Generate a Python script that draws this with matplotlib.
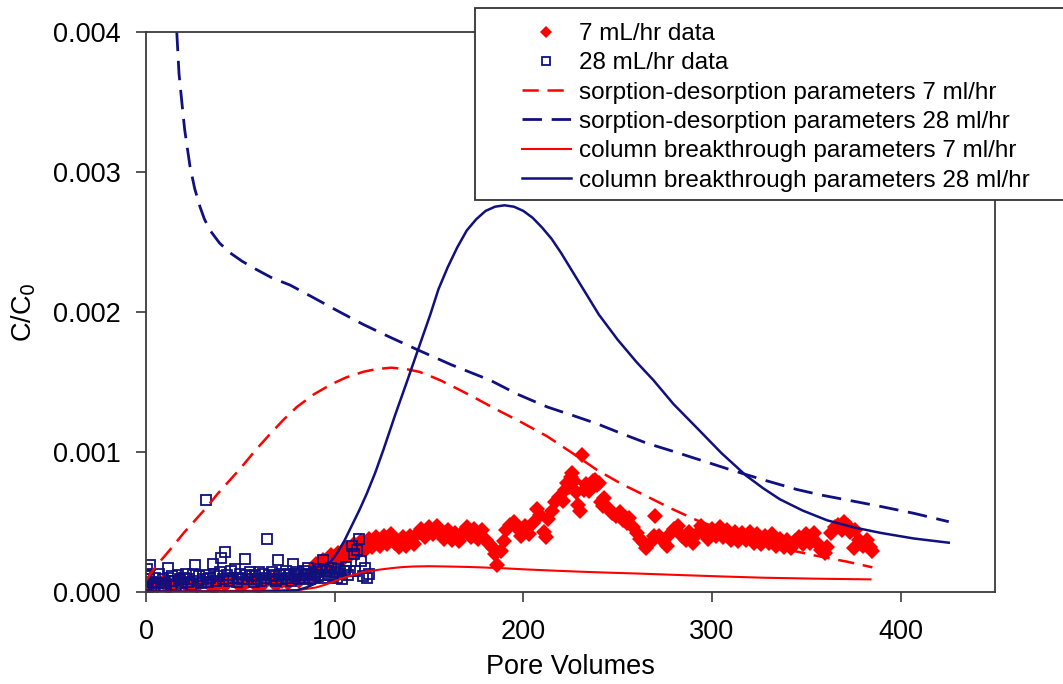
import numpy as np
import matplotlib.pyplot as plt
from matplotlib.patches import Rectangle

plt.rcParams['font.family'] = ['Liberation Sans', 'DejaVu Sans']

RED = '#ff0000'
NAVY = '#10107e'

# measured breakthrough data, 7 mL/hr column (C/C0 in units of 1e-4)
red_x = [0, 3, 6, 9, 12, 15, 18, 21, 24, 27, 30, 33, 36, 39, 42, 45, 48, 51, 54, 57,
         60, 63, 66, 69, 72, 75, 78, 81, 84, 86,
         88, 90, 92, 94, 96, 98, 100, 102, 104, 106, 108, 110, 112, 114, 116, 118, 120,
         122, 124, 126, 128, 130, 132, 134, 136, 138, 140, 142, 144, 146, 148, 150, 152,
         154, 156, 158, 160, 162, 164, 166, 168, 170, 172, 174, 176, 178, 180, 182, 184,
         185, 186, 188, 190, 191, 193, 195, 197, 199, 201, 203, 205, 207, 209, 211, 212,
         213, 215, 217, 219, 221, 222, 223, 224, 225, 226, 227, 228, 229, 230, 231, 232,
         233, 235, 237, 238, 239, 240, 241, 242, 243, 245, 247, 249, 251, 253, 255, 256,
         258, 260, 262, 264, 265, 267, 269, 270, 272, 274, 276, 278, 280, 282, 284, 286,
         288, 290, 292, 294, 296, 298, 300, 302, 304, 306, 308, 310, 312, 314, 316, 318,
         320, 322, 324, 326, 328, 330, 332, 334, 336, 338, 340, 342, 344, 346, 348, 350,
         352, 354, 356, 358, 360, 361, 363, 365, 367, 369, 370, 372, 373, 375, 376, 378,
         380, 382, 384, 385]
red_y = [0.5, 0.8, 0.4, 0.7, 0.3, 0.6, 0.9, 0.5, 0.7, 0.4, 0.8, 0.6, 0.3, 0.7, 0.5, 0.9,
         0.6, 0.4, 0.8, 0.6, 0.3, 0.7, 0.9, 0.5, 0.8, 0.6, 1.0, 0.8, 1.2, 1.0,
         1.4, 2.0, 1.6, 2.3, 1.8, 2.6, 2.1, 2.8, 2.3, 3.1, 2.6, 3.4, 2.8, 3.6, 3.0, 3.8, 3.2,
         3.9, 3.3, 4.0, 3.4, 4.1, 3.5, 3.2, 3.9, 3.3, 4.0, 3.4, 4.2, 4.5, 3.9, 4.6, 4.1,
         4.7, 4.2, 3.8, 4.4, 3.7, 4.2, 3.6, 4.3, 4.6, 3.9, 4.5, 3.8, 4.4, 3.7, 3.4, 3.1,
         2.7, 1.9, 2.9, 3.6, 4.4, 4.8, 5.0, 4.5, 4.0, 4.7, 4.1, 4.9, 5.9, 5.5, 4.3, 3.9,
         5.2, 5.8, 6.4, 6.8, 6.5, 7.3, 7.8, 7.5, 8.2, 8.5, 7.9, 7.1, 6.2, 5.8, 9.8, 7.3,
         7.7, 7.2, 7.9, 8.0, 7.6, 7.8, 6.4, 6.1, 6.7, 6.0, 5.6, 5.4, 5.7, 5.1, 4.9, 5.3,
         4.6, 4.2, 3.8, 3.5, 3.1, 3.5, 4.0, 5.4, 4.0, 3.6, 3.3, 4.1, 4.5, 4.7, 4.0, 3.7,
         4.3, 3.5, 4.1, 4.7, 4.2, 3.8, 4.5, 4.0, 4.6, 3.9, 4.4, 3.7, 4.3, 3.6, 4.2, 3.7,
         4.3, 3.5, 4.1, 3.4, 4.0, 3.5, 4.1, 3.3, 3.8, 3.2, 3.7, 3.1, 3.6, 3.9, 3.4, 4.1,
         3.5, 4.2, 3.4, 3.0, 2.8, 3.2, 4.2, 4.6, 4.8, 4.4, 5.0, 4.7, 4.3, 3.1, 4.4, 3.7,
         3.3, 3.7, 3.2, 2.9]

# measured breakthrough data, 28 mL/hr column (C/C0 in units of 1e-4)
blue_x = [0, 0, 0, 0, 0.5, 1, 1.5, 2, 3, 4, 5, 6, 7, 8, 9, 10, 11.7, 12, 13, 14, 15, 16,
          17, 18, 19, 20, 21, 22, 23, 24, 25, 26, 27, 28, 29, 30, 31.8, 32, 33, 34, 35.6,
          36, 37, 38, 39, 40, 41, 41.9, 43, 44, 45, 46, 47, 48, 49, 50, 51, 52.5, 53, 54,
          55, 56, 57, 58, 59, 60, 61, 62, 63, 64, 65, 66, 67, 68, 69, 70, 71, 72, 73, 74,
          75, 76, 77, 78, 79, 80, 81, 82, 83, 84, 85, 86, 87, 88, 89, 90, 91, 92, 93, 94,
          95, 96, 97, 98, 99, 100, 101, 102, 103, 104, 105, 106, 107, 108, 109, 110, 111,
          112, 113, 114, 115, 116, 117, 118]
blue_y = [0.1, 0.5, 0.9, 1.3, 1.6, 0.3, 1.1, 1.9, 0.7, 0.4, 1.0, 0.6, 1.3, 0.4, 0.9, 0.6,
          1.7, 0.8, 0.5, 1.1, 0.8, 0.5, 1.2, 0.9, 0.6, 1.0, 1.3, 0.7, 0.9, 0.5, 1.3, 1.9,
          0.8, 1.1, 0.6, 0.9, 6.55, 1.2, 0.7, 1.0, 2.0, 1.3, 0.8, 1.1, 1.4, 2.4, 0.9, 2.86,
          1.2, 0.8, 1.5, 1.0, 1.6, 0.7, 1.0, 1.3, 0.9, 2.34, 1.2, 0.9, 1.4, 1.1, 0.7, 1.2,
          0.9, 1.4, 0.8, 1.3, 1.0, 3.8, 1.2, 0.9, 1.4, 1.1, 0.8, 2.26, 1.3, 0.9, 1.2, 1.5,
          1.0, 1.3, 0.8, 2.0, 1.1, 1.4, 0.9, 1.3, 1.0, 1.5, 1.2, 1.7, 0.9, 1.3, 1.0, 1.4,
          1.1, 1.6, 1.2, 2.26, 1.0, 1.5, 1.2, 1.7, 1.1, 1.4, 1.0, 1.6, 1.3, 0.9, 1.5, 1.8,
          1.2, 1.5, 3.3, 2.7, 1.5, 3.0, 3.8, 2.2, 1.1, 1.7, 1.0, 1.3]

# model curve: sorption-desorption parameters, 7 ml/hr
sd7_x = [0, 3, 7.4, 14, 20, 26, 32, 38, 44, 50, 58, 66, 73, 80, 89, 98, 106, 115, 122,
         130, 138, 145, 150.7, 156, 165, 175, 186, 199, 212.6, 226, 239, 252, 265.6, 279,
         292, 306, 320, 337, 354, 371.7, 385]
sd7_y = [0.8, 1.4, 2.15, 3.2, 4.2, 5.1, 6.0, 7.0, 7.9, 8.8, 10.1, 11.3, 12.3, 13.2, 14.1,
         14.8, 15.3, 15.7, 15.9, 16.0, 15.9, 15.7, 15.4, 15.1, 14.5, 13.8, 13.0, 12.1, 11.1,
         9.9, 8.7, 7.7, 6.8, 5.9, 5.1, 4.4, 3.8, 3.1, 2.6, 2.14, 1.74]

# model curve: sorption-desorption parameters, 28 ml/hr
sd28_x = [16.3, 17.5, 18.9, 20.5, 23.3, 25.8, 28.6, 31, 34, 39, 44.6, 51, 58.7, 67, 76.4,
          88.8, 101, 115, 129, 143.6, 162, 182.5, 197, 212.6, 226, 239, 252, 265.6, 280,
          293.9, 310, 327, 345, 358, 371.7, 389, 407, 425.5]
sd28_y = [40.0, 37.0, 35.1, 33.0, 30.4, 28.8, 27.5, 26.6, 25.8, 24.9, 24.2, 23.6, 23.0,
          22.4, 21.9, 21.0, 20.1, 19.1, 18.2, 17.3, 16.2, 15.1, 14.1, 13.2, 12.6, 12.0,
          11.3, 10.6, 10.0, 9.4, 8.7, 8.0, 7.3, 6.9, 6.55, 6.1, 5.6, 5.0]

# model curve: column breakthrough parameters, 7 ml/hr
cb7_x = [0, 80, 90, 95, 100, 105, 110, 115, 120, 124, 130, 136, 141.7, 150, 160, 170, 177,
         190, 200, 215, 230, 245, 260, 283, 305, 327, 355, 384]
cb7_y = [0, 0.1, 0.3, 0.5, 0.75, 1.0, 1.2, 1.4, 1.5, 1.58, 1.68, 1.76, 1.8, 1.82, 1.8, 1.77,
         1.74, 1.67, 1.6, 1.51, 1.43, 1.36, 1.3, 1.19, 1.09, 1.0, 0.93, 0.88]

# model curve: column breakthrough parameters, 28 ml/hr
cb28_x = [0, 60, 80, 85, 90, 94, 97.6, 101, 105, 109, 113, 117, 121.5, 126, 132, 138.3, 145,
          150.7, 155, 160, 165, 170, 175, 180, 185, 190, 195, 200, 205, 210, 215, 220, 225,
          230, 235, 240, 245, 250, 255, 260, 269, 279.6, 292, 305, 318, 327, 336, 348, 361,
          375, 389.4, 407, 425.5]
cb28_y = [0, 0, 0.1, 0.3, 0.6, 1.3, 2.1, 2.7, 3.6, 4.7, 5.8, 7.0, 8.5, 10.2, 12.6, 15.0, 17.6,
          19.8, 21.6, 23.2, 24.6, 25.8, 26.6, 27.2, 27.5, 27.6, 27.5, 27.2, 26.7, 26.0, 25.2,
          24.2, 23.1, 22.0, 20.9, 19.8, 18.9, 18.0, 17.2, 16.4, 15.1, 13.4, 11.7, 9.9, 8.3,
          7.4, 6.6, 5.8, 5.1, 4.6, 4.2, 3.8, 3.5]

SCALE = 1e-4

fig = plt.figure(figsize=(10.63, 6.84), dpi=100)
ax = fig.add_axes([146 / 1063, 1 - 591.7 / 684, (995 - 146) / 1063, 560 / 684])

h1, = ax.plot(red_x, np.array(red_y) * SCALE, linestyle='none', marker='D',
              markersize=8.5, color=RED, markeredgewidth=0, label='7 mL/hr data')
h2, = ax.plot(blue_x, np.array(blue_y) * SCALE, linestyle='none', marker='s',
              markersize=7, markerfacecolor='none', markeredgecolor=NAVY,
              markeredgewidth=1.3, label='28 mL/hr data')
h3, = ax.plot(sd7_x, np.array(sd7_y) * SCALE, color=RED, lw=1.8, dashes=(6.5, 3.5),
              label='sorption-desorption parameters 7 ml/hr')
h4, = ax.plot(sd28_x, np.array(sd28_y) * SCALE, color=NAVY, lw=2.0, dashes=(7, 3.5),
              label='sorption-desorption parameters 28 ml/hr')
h5, = ax.plot(cb7_x, np.array(cb7_y) * SCALE, color=RED, lw=1.5,
              label='column breakthrough parameters 7 ml/hr')
h6, = ax.plot(cb28_x, np.array(cb28_y) * SCALE, color=NAVY, lw=1.8,
              label='column breakthrough parameters 28 ml/hr')

ax.set_xlim(0, 450)
ax.set_ylim(0, 0.004)
ax.set_xticks([0, 100, 200, 300, 400])
ax.set_yticks([0, 0.001, 0.002, 0.003, 0.004])
ax.yaxis.set_major_formatter(plt.FormatStrFormatter('%.3f'))
ax.tick_params(direction='out', length=7, width=1.2, colors='#3a3a3a',
               labelcolor='black', labelsize=19.5)
ax.tick_params(axis='y', pad=11)
ax.tick_params(axis='x', pad=13)
for sp in ax.spines.values():
    sp.set_color('#3a3a3a')
    sp.set_linewidth(1.3)

ax.set_xlabel('Pore Volumes', fontsize=19.5, labelpad=6)
ax.set_ylabel('C/C$_0$', fontsize=19.5, labelpad=11)

# legend box sits partly outside the axes, over the top-right corner
frame = Rectangle((475 / 1063, 1 - 200 / 684), 600 / 1063, 192 / 684,
                  transform=fig.transFigure, facecolor='white',
                  edgecolor='#333333', lw=1.3, zorder=3)
fig.add_artist(frame)
leg = fig.legend(handles=[h1, h2, h3, h4, h5, h6], loc='upper left',
                 bbox_to_anchor=(522 / 1063, 1 - 23 / 684), frameon=False,
                 borderpad=0, borderaxespad=0, handlelength=2.0,
                 handletextpad=0.35, labelspacing=0.3, fontsize=17.5,
                 numpoints=1, markerscale=0.75)
leg.set_zorder(4)

fig.savefig('out.png', dpi=100)
